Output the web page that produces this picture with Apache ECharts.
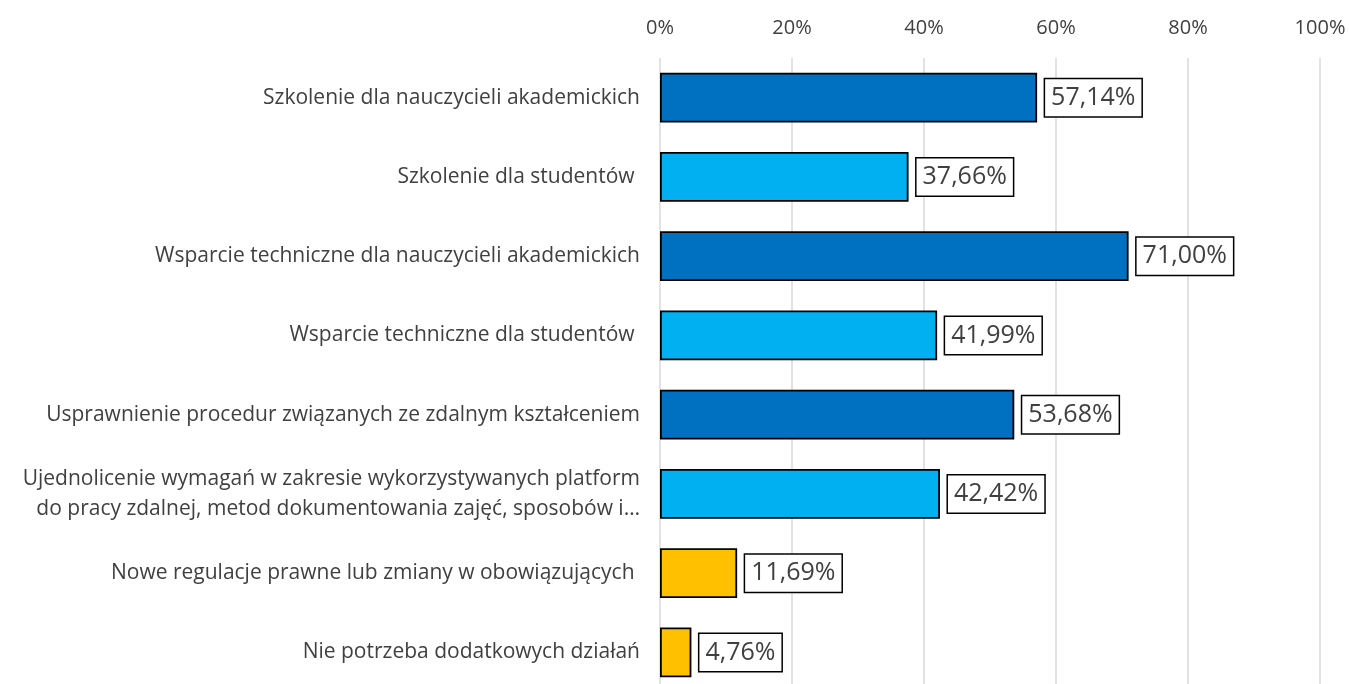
<!DOCTYPE html>
<html>
<head>
<meta charset="utf-8">
<script src="https://cdn.jsdelivr.net/npm/echarts@6/dist/echarts.min.js"></script>
<style>
  html, body { margin: 0; padding: 0; background: #fff; overflow: hidden; }
  #chart { width: 1349px; height: 692px; }
</style>
</head>
<body>
<div id="chart"></div>
<script>
// categories, top to bottom
const categories = [
  'Szkolenie dla nauczycieli akademickich',
  'Szkolenie dla studentów ',
  'Wsparcie techniczne dla nauczycieli akademickich',
  'Wsparcie techniczne dla studentów ',
  'Usprawnienie procedur związanych ze zdalnym kształceniem',
  'Ujednolicenie wymagań w zakresie wykorzystywanych platform\ndo pracy zdalnej, metod dokumentowania zajęć, sposobów i…',
  'Nowe regulacje prawne lub zmiany w obowiązujących ',
  'Nie potrzeba dodatkowych działań'
];
const values = [57.14, 37.66, 71.00, 41.99, 53.68, 42.42, 11.69, 4.76];
const tickValues = [0, 20, 40, 60, 80, 100];

const barColors = ['#0070C0', '#00B0F0', '#0070C0', '#00B0F0', '#0070C0', '#00B0F0', '#FFC000', '#FFC000'];
const FONT = 'Open Sans';

const chart = echarts.init(document.getElementById('chart'));

chart.setOption({
  animation: false,
  textStyle: { fontFamily: FONT },
  grid: {
    left: 660,
    right: 29,
    top: 58,
    bottom: 0,
    containLabel: false
  },
  xAxis: {
    type: 'value',
    position: 'top',
    min: tickValues[0],
    max: tickValues[tickValues.length - 1],
    interval: 20,
    axisLine: { show: false },
    axisTick: { show: false },
    axisLabel: {
      margin: 20,
      fontSize: 20,
      color: '#404040',
      fontFamily: FONT,
      formatter: v => v + '%'
    },
    splitLine: { lineStyle: { color: '#D9D9D9', width: 1.5 } }
  },
  yAxis: {
    type: 'category',
    inverse: true,
    data: categories,
    axisLine: { show: false },
    axisTick: { show: false },
    axisLabel: {
      margin: 20,
      fontSize: 21,
      lineHeight: 30,
      color: '#404040',
      fontFamily: FONT,
      align: 'right'
    }
  },
  series: [{
    type: 'bar',
    barWidth: '63%',
    data: values.map((v, i) => ({
      value: v,
      itemStyle: { color: barColors[i] }
    })),
    itemStyle: { borderColor: '#000', borderWidth: 1.8 },
    label: {
      show: true,
      position: 'right',
      distance: 8,
      fontSize: 25,
      lineHeight: 26,
      color: '#404040',
      fontFamily: FONT,
      backgroundColor: '#fff',
      borderColor: '#000',
      borderWidth: 1.5,
      padding: [6, 6, 5, 6],
      formatter: p => p.value.toFixed(2).replace('.', ',') + '%'
    }
  }]
});
</script>
</body>
</html>
